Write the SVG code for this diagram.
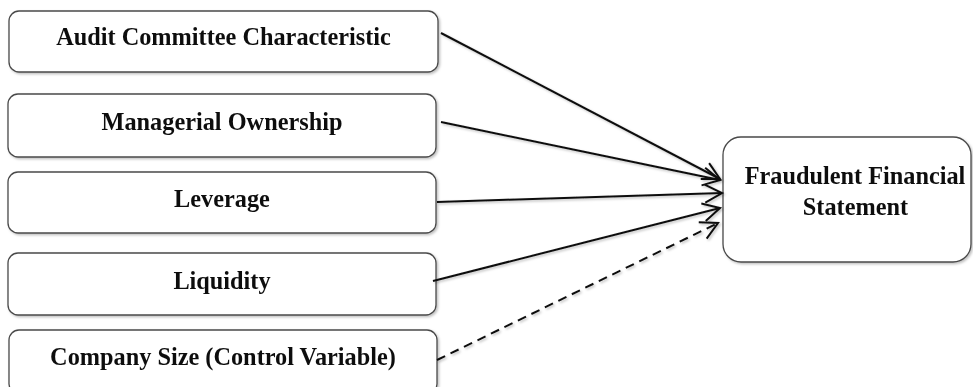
<svg xmlns="http://www.w3.org/2000/svg" width="973" height="387" viewBox="0 0 973 387">
<style>
.box{fill:#fff;stroke:#4a4a4a;stroke-width:1.3}
.lbl{font-family:"Liberation Serif","Times New Roman",serif;font-size:24.3px;font-weight:bold;fill:#111;text-anchor:middle}
.edge{stroke:#111;stroke-width:2;fill:none;marker-end:url(#chev)}
.dash{stroke-dasharray:9 6}
</style>
<defs>
<filter id="sh" x="-10%" y="-10%" width="120%" height="130%">
<feDropShadow dx="1.5" dy="1.5" stdDeviation="1.3" flood-color="#000" flood-opacity="0.25"/>
</filter>
<marker id="chev" markerUnits="userSpaceOnUse" markerWidth="26" markerHeight="26" viewBox="-20 -13 26 26" refX="0" refY="0" orient="auto">
<path d="M -17 -9 L 0 0 L -17 9" fill="none" stroke="#111" stroke-width="2"/>
</marker>
</defs>
<rect width="973" height="387" fill="#fff"/>
<g id="n1" filter="url(#sh)"><rect class="box" x="9" y="11" width="429" height="61" rx="10"/><text class="lbl" x="223.5" y="44.5">Audit Committee Characteristic</text></g>
<g id="n2" filter="url(#sh)"><rect class="box" x="8" y="94" width="428" height="63" rx="10"/><text class="lbl" x="222" y="129.5">Managerial Ownership</text></g>
<g id="n3" filter="url(#sh)"><rect class="box" x="8" y="172" width="428" height="61" rx="10"/><text class="lbl" x="222" y="207">Leverage</text></g>
<g id="n4" filter="url(#sh)"><rect class="box" x="8" y="253" width="428" height="62" rx="10"/><text class="lbl" x="222" y="288.5">Liquidity</text></g>
<g id="n5" filter="url(#sh)"><rect class="box" x="9" y="330" width="428" height="64" rx="10"/><text class="lbl" x="223" y="365">Company Size (Control Variable)</text></g>
<g id="n6" filter="url(#sh)"><rect class="box" x="723" y="137" width="248" height="125" rx="18"/><text class="lbl" x="855" y="183.5">Fraudulent Financial</text><text class="lbl" x="855.5" y="215">Statement</text></g>
<g id="connectors" filter="url(#sh)">
<line class="edge" x1="441" y1="33" x2="720" y2="179"/>
<line class="edge" x1="441" y1="122" x2="720" y2="180"/>
<line class="edge" x1="437" y1="202" x2="722" y2="193"/>
<line class="edge" x1="433" y1="281" x2="720" y2="208"/>
<line class="edge dash" x1="437" y1="360" x2="718" y2="223"/>
</g>
</svg>
